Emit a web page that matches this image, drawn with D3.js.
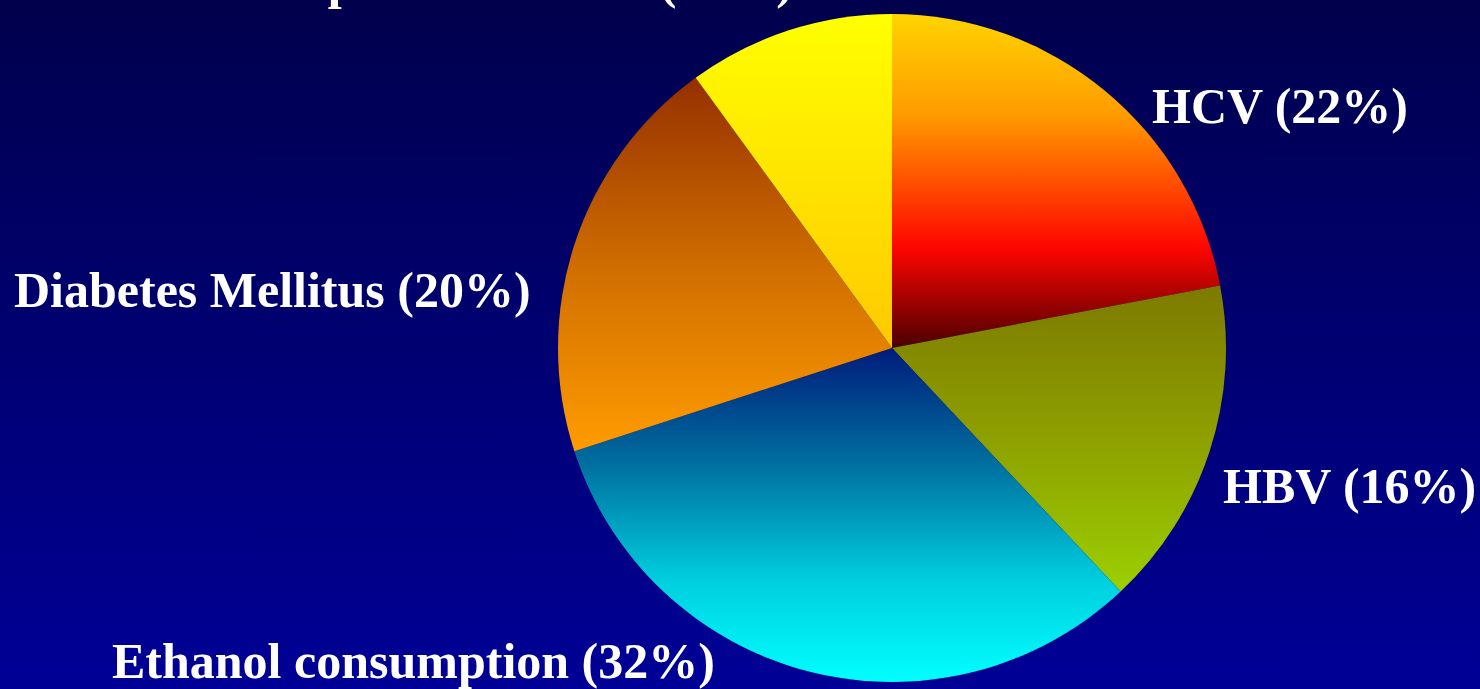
<!DOCTYPE html>
<meta charset="utf-8">
<style>
html, body {
  margin: 0;
  padding: 0;
  overflow: hidden;
}

.label {
  font-family: "Liberation Serif", "Times New Roman", serif;
  font-weight: bold;
  font-size: 50px;
  fill: #fff;
}
</style>
<svg width="1480" height="689"></svg>
<script src="https://cdn.jsdelivr.net/npm/d3@7/dist/d3.min.js"></script>
<script>

// slices, clockwise from 12 o'clock
var causes = ["HCV", "HBV", "Ethanol consumption", "Diabetes Mellitus", "Multiple risk factors"];
var shares = [22, 16, 32, 20, 10];

// vertical gradient stops for each slice (top -> bottom)
var fills = [
  [[0, "#ffd400"], [0.3, "#ff9c00"], [0.7, "#ff0500"], [1, "#4a0000"]],
  [[0, "#7d7a00"], [0.5, "#8da000"], [1, "#9ccf00"]],
  [[0, "#001c7c"], [0.35, "#00709f"], [0.7, "#00cfdf"], [1, "#00ffff"]],
  [[0, "#953000"], [0.5, "#cf6d00"], [1, "#ff9c00"]],
  [[0, "#ffff00"], [1, "#ffc800"]]
];

// where each label sits (start / end of text, baseline)
var labelAt = [
  {x: 1152, y: 123, anchor: "start"},
  {x: 1223, y: 503, anchor: "start"},
  {x: 112,  y: 678, anchor: "start"},
  {x: 14,   y: 307, anchor: "start"},
  {x: 793,  y: -2,  anchor: "end"}
];

var svg = d3.select("svg"),
    width = +svg.attr("width"),
    height = +svg.attr("height"),
    cx = 892, cy = 348, radius = 334;

var defs = svg.append("defs");

var bg = defs.append("linearGradient")
    .attr("id", "bg")
    .attr("x1", 0).attr("y1", 0).attr("x2", 0).attr("y2", 1);
bg.append("stop").attr("offset", 0).attr("stop-color", "#00004c");
bg.append("stop").attr("offset", 1).attr("stop-color", "#000096");

svg.append("rect")
    .attr("width", width)
    .attr("height", height)
    .attr("fill", "url(#bg)");

fills.forEach(function(stops, i) {
  var g = defs.append("linearGradient")
      .attr("id", "slice" + i)
      .attr("x1", 0).attr("y1", 0).attr("x2", 0).attr("y2", 1);
  stops.forEach(function(s) {
    g.append("stop").attr("offset", s[0]).attr("stop-color", s[1]);
  });
});

var pie = d3.pie().sort(null).value(function(d) { return d; });
var arc = d3.arc().innerRadius(0).outerRadius(radius);

var g = svg.append("g")
    .attr("transform", "translate(" + cx + "," + cy + ")");

g.selectAll(".slice")
    .data(pie(shares))
  .enter().append("path")
    .attr("class", "slice")
    .attr("d", arc)
    .attr("fill", function(d, i) { return "url(#slice" + i + ")"; });

svg.selectAll(".label")
    .data(causes)
  .enter().append("text")
    .attr("class", "label")
    .attr("x", function(d, i) { return labelAt[i].x; })
    .attr("y", function(d, i) { return labelAt[i].y; })
    .attr("text-anchor", function(d, i) { return labelAt[i].anchor; })
    .text(function(d, i) { return d + " (" + shares[i] + "%)"; });

</script>
